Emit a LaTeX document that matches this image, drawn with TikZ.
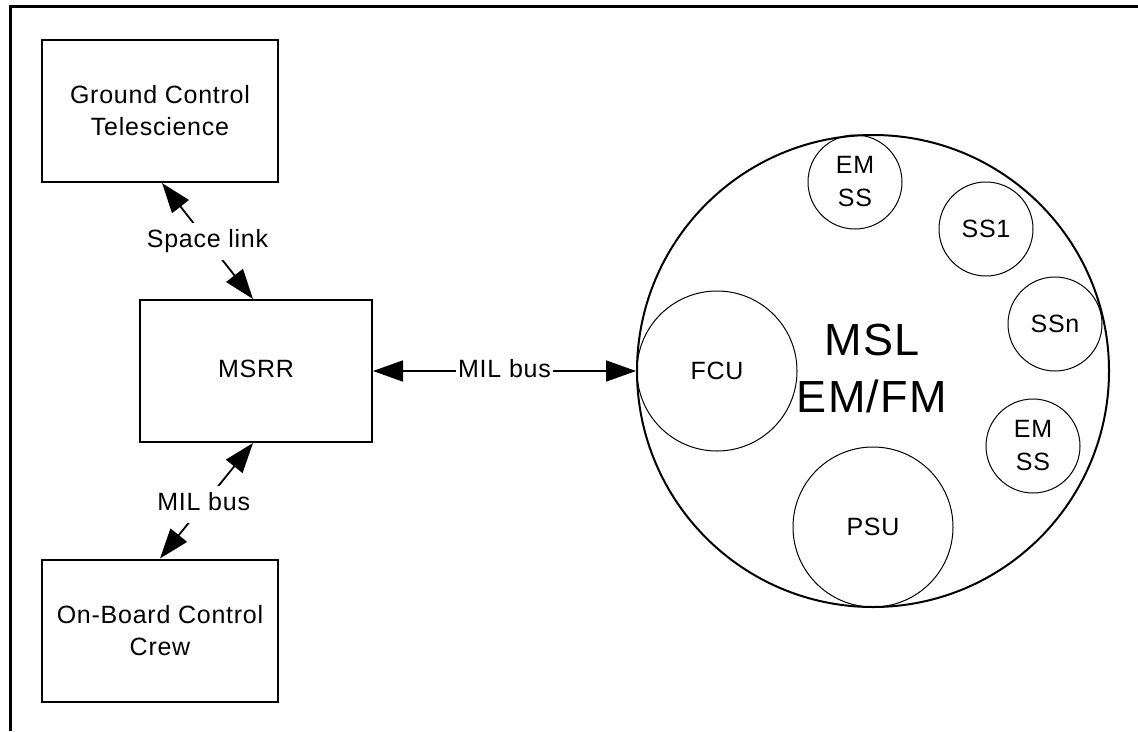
\documentclass[tikz,border=0pt]{standalone}
\usepackage{fontspec}
\setmainfont{Liberation Sans}[LetterSpace=3]
\usetikzlibrary{arrows.meta}
\begin{document}
\begin{tikzpicture}[x=1pt,y=-1pt,
  box/.style={draw, line width=2pt, minimum width=236pt, minimum height=142pt,
    inner sep=0pt, align=center, font=\fontsize{25}{32}\selectfont},
  unit/.style={circle, draw, line width=1pt, inner sep=0pt, align=center,
    font=\fontsize{25}{33}\selectfont},
  link/.style={line width=1.8pt,
    {Triangle[length=30pt,width=21pt]}-{Triangle[length=30pt,width=21pt]}},
  tag/.style={fill=white, inner xsep=2.5pt, inner ysep=7pt, text height=18pt,
    text depth=5pt, font=\fontsize{25}{30}\selectfont}
]
\useasboundingbox (0,0) rectangle (1138,731);

% page frame (left and top edges only)
\draw[line width=3pt] (10,731) -- (10,6) -- (1138,6);

% operator side
\node[box] (gc) at (160,111) {Ground Control\\Telescience};
\node[box, minimum width=232pt, text depth=5pt] (msrr) at (256,371) {MSRR};
\node[box] (ob) at (160,630.5) {On-Board Control\\Crew};

% laboratory with its subsystems
\node[circle, draw, line width=2pt, minimum size=472pt, inner sep=0pt] (msl) at (873,371) {};
\node[font=\fontsize{45}{57}\selectfont, align=center] (msltext) at (872,368.5) {MSL\\EM/FM};
\node[unit, minimum size=160pt] (fcu) at (717,371) {FCU};
\node[unit, minimum size=160pt] (psu) at (873,527) {PSU};
\node[unit, minimum size=94pt] (ems1) at (855,182) {EM\\SS};
\node[unit, minimum size=94pt] (ss1) at (986,229) {SS1};
\node[unit, minimum size=94pt] (ssn) at (1055,324) {SSn};
\node[unit, minimum size=94pt] (ems2) at (1033,446) {EM\\SS};

% links
\draw[link] ([xshift=2pt]gc.south) -- node[tag] {Space link} ([xshift=-3pt]msrr.north);
\draw[link] ([xshift=-3pt]msrr.south) -- node[tag, pos=0.53] {MIL bus} (ob.north);
\draw[link] (msrr.east) -- node[tag] {MIL bus} (msl.west);
\end{tikzpicture}
\end{document}
